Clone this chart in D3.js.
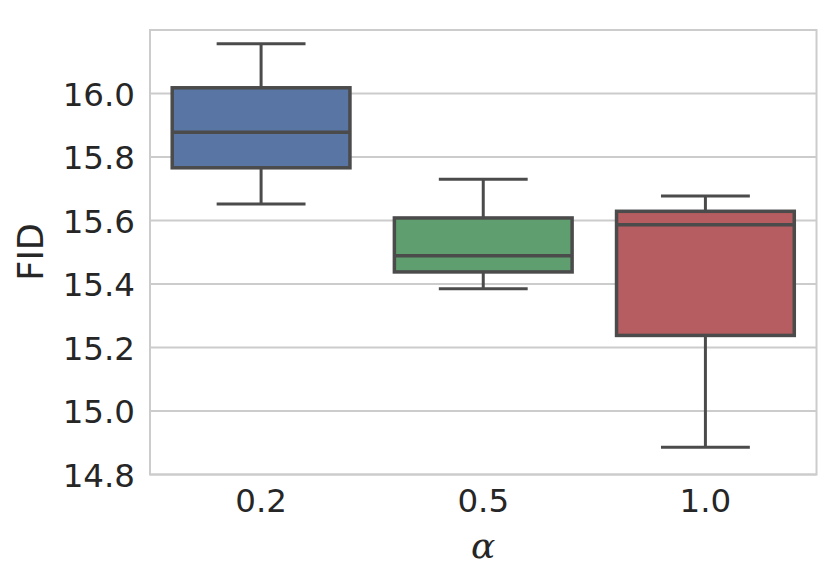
<!DOCTYPE html>
<html><head><meta charset="utf-8">
<script src="https://cdn.jsdelivr.net/npm/d3@7"></script>
<style>body{margin:0;background:#fff}</style>
</head><body>
<svg id="c" width="831" height="582"></svg>
<script>
const categories = ["0.2", "0.5", "1.0"];
const whiskerLow  = [15.652, 15.385, 14.886];
const q1          = [15.766, 15.438, 15.238];
const median      = [15.878, 15.489, 15.587];
const q3          = [16.018, 15.608, 15.629];
const whiskerHigh = [16.157, 15.730, 15.677];
const colors = ["#5875a4", "#5f9e6e", "#b55d60"];
const yTicks = [14.8, 15.0, 15.2, 15.4, 15.6, 15.8, 16.0];

const svg = d3.select("#c");
const L = 150, R = 816.5, T = 30, B = 474.5;
const x = d3.scaleBand().domain(categories).range([L, R]).paddingInner(0).paddingOuter(0);
const y = d3.scaleLinear().domain([14.8, 16.2]).range([B, T]);
const txt = "#262626", grid = "#cccccc", lineC = "#4b4b4b";

// grid
svg.append("g").selectAll("line").data(yTicks).join("line")
  .attr("x1", L).attr("x2", R).attr("y1", d => y(d)).attr("y2", d => y(d))
  .attr("stroke", grid).attr("stroke-width", 2);

// frame
svg.append("rect").attr("x", L).attr("y", T).attr("width", R - L).attr("height", B - T)
  .attr("fill", "none").attr("stroke", grid).attr("stroke-width", 2);

// y axis labels
const yAxis = d3.axisLeft(y).tickValues(yTicks).tickFormat(d3.format(".1f")).tickSize(0).tickPadding(15);
const gy = svg.append("g").attr("transform", `translate(${L},0)`).call(yAxis);
gy.select(".domain").remove();
gy.selectAll("text").attr("fill", txt).style("font-family", "DejaVu Sans").style("font-size", "32.5px").attr("dy", "0.36em");

const xAxis = d3.axisBottom(x).tickSize(0).tickPadding(14);
const gx = svg.append("g").attr("transform", `translate(0,${B})`).call(xAxis);
gx.select(".domain").remove();
gx.selectAll("text").attr("fill", txt).style("font-family", "DejaVu Sans").style("font-size", "32.5px").attr("dy", "0.72em");

// boxes
const data = categories.map((c, i) => ({c, lo: whiskerLow[i], q1: q1[i], med: median[i], q3: q3[i], hi: whiskerHigh[i], col: colors[i]}));
const bw = x.bandwidth() * 0.8;
const g = svg.append("g").selectAll("g").data(data).join("g");
const cx = d => x(d.c) + x.bandwidth() / 2;
g.append("line").attr("x1", cx).attr("x2", cx).attr("y1", d => y(d.q3)).attr("y2", d => y(d.hi)).attr("stroke", lineC).attr("stroke-width", 3);
g.append("line").attr("x1", cx).attr("x2", cx).attr("y1", d => y(d.q1)).attr("y2", d => y(d.lo)).attr("stroke", lineC).attr("stroke-width", 3);
g.append("line").attr("x1", d => cx(d) - bw / 4).attr("x2", d => cx(d) + bw / 4).attr("y1", d => y(d.hi)).attr("y2", d => y(d.hi)).attr("stroke", lineC).attr("stroke-width", 3);
g.append("line").attr("x1", d => cx(d) - bw / 4).attr("x2", d => cx(d) + bw / 4).attr("y1", d => y(d.lo)).attr("y2", d => y(d.lo)).attr("stroke", lineC).attr("stroke-width", 3);
g.append("rect").attr("x", d => cx(d) - bw / 2).attr("width", bw)
  .attr("y", d => y(d.q3)).attr("height", d => y(d.q1) - y(d.q3))
  .attr("fill", d => d.col).attr("stroke", lineC).attr("stroke-width", 3.5);
g.append("line").attr("x1", d => cx(d) - bw / 2).attr("x2", d => cx(d) + bw / 2).attr("y1", d => y(d.med)).attr("y2", d => y(d.med)).attr("stroke", lineC).attr("stroke-width", 3.5);

// axis titles
svg.append("text").attr("x", (L + R) / 2).attr("y", 558).attr("text-anchor", "middle")
  .attr("fill", txt).style("font-family", "DejaVu Serif").style("font-style", "italic").style("font-size", "36px").text("α");
svg.append("text").attr("transform", `translate(43,252) rotate(-90)`).attr("text-anchor", "middle")
  .attr("fill", txt).style("font-family", "DejaVu Sans").style("font-size", "35px").text("FID");
</script>
</body></html>
